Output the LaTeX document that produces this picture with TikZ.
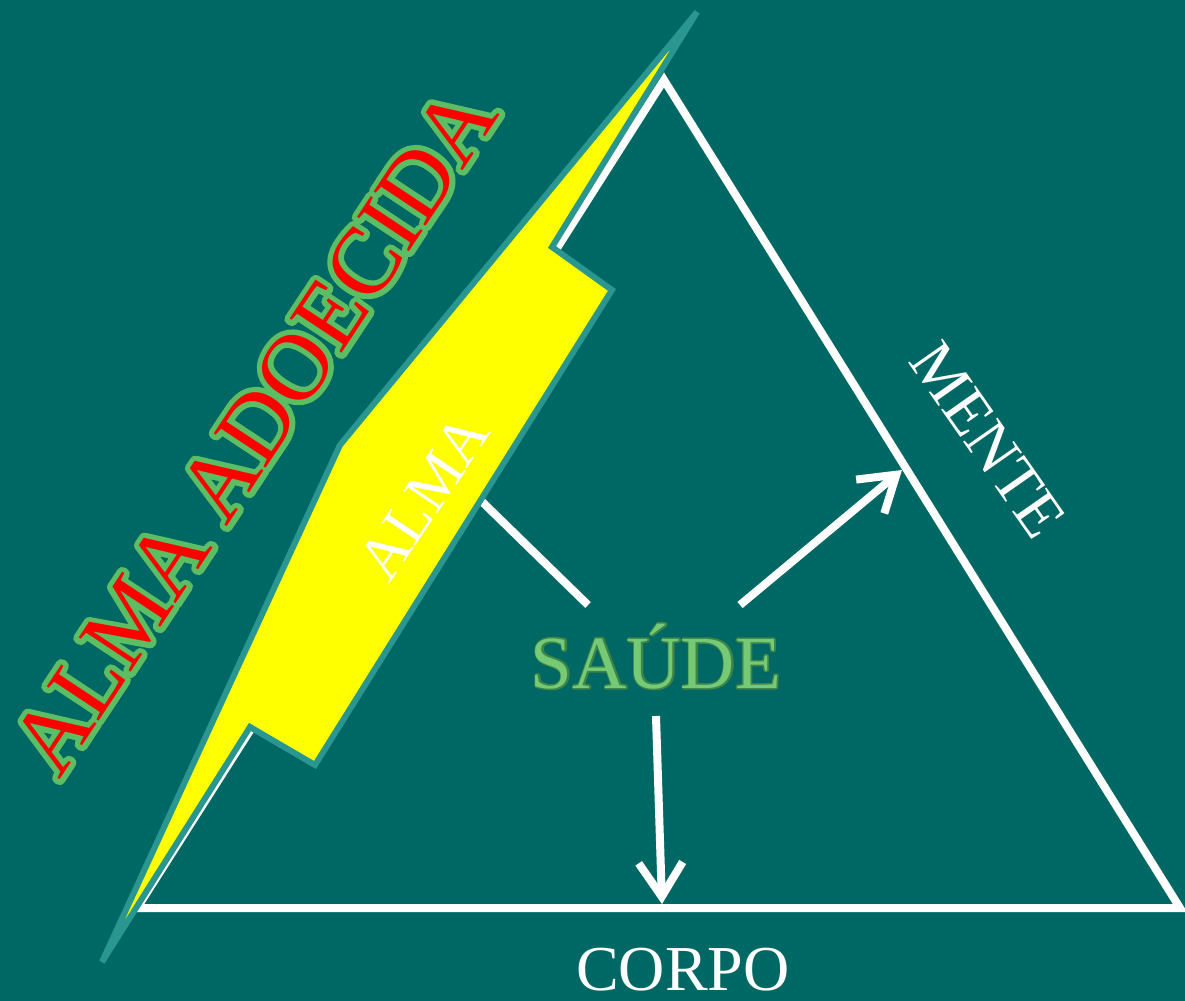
\documentclass[tikz,border=0pt]{standalone}
\usepackage{fontspec}
\setmainfont{Liberation Serif}
\usetikzlibrary{arrows.meta}
\definecolor{bg}{RGB}{0,104,100}
\definecolor{boltedge}{RGB}{42,150,144}
\definecolor{boltfill}{RGB}{255,255,0}
\definecolor{titlered}{RGB}{255,0,0}
\definecolor{healthgreen}{RGB}{118,202,118}
% outlined text: a stroked copy (given width, PDF stroke colour) under the filled text
\newcommand{\outlinedtext}[3]{\rlap{\special{pdf:literal 1 Tr #1 w #2 RG 1 J 1 j}#3\special{pdf:literal 0 Tr}}#3}
\begin{document}
\begin{tikzpicture}[x=0.5pt,y=-0.5pt,
  wline/.style={draw=white,line width=4pt},
  warrow/.style={wline,-{Straight Barb[length=17pt,width=22pt]}},
  bolt/.style={draw=boltedge,fill=boltfill,line width=3pt,line join=miter},
  label/.style={text=white,inner sep=0pt,font=\fontsize{32}{33}\selectfont}]
\fill[bg] (0,0) rectangle (1185,1001);
\useasboundingbox (0,0) rectangle (1185,1001);
% triangle
\coordinate (apex) at (664,80);
\coordinate (bl) at (137,908);
\coordinate (br) at (1180,908);
\draw[wline,line join=miter] (apex) -- (br) -- (bl) -- cycle;
% centre text
\node[anchor=base,inner sep=0pt,text=healthgreen,font=\fontsize{37.5}{38}\selectfont] (saude) at (656,688) {\outlinedtext{1.6}{0.24 0.52 0.28}{SAÚDE}};
% connectors
\coordinate (s1) at (588,605);
\coordinate (e1) at (468,488);
\coordinate (s2) at (740,605);
\coordinate (e2) at (902,470);
\coordinate (s3) at (656,716);
\coordinate (e3) at (662,904);
\draw[wline] (s1) -- (e1);
\draw[warrow] (s2) -- (e2);
\draw[warrow] (s3) -- (e3);
% lightning bolt
\draw[bolt] (697,12) -- (552,247) -- (612,290) -- (315,765) -- (250,727) -- (102,962) -- (340,445) -- cycle;
% labels
\node[label,rotate=56] (alma) at (424,497) {\fontsize{31}{32}\selectfont ALMA};
\node[label,rotate=-55] (mente) at (988,440) {MENTE};
\node[label] (corpo) at (683,970) {CORPO};
\node[inner sep=0pt,rotate=56.5,text=titlered,font=\fontsize{47.5}{48}\selectfont] (title) at (254,430) {\outlinedtext{5.5}{0.36 0.745 0.384}{ALMA ADOECIDA}};
\end{tikzpicture}
\end{document}
